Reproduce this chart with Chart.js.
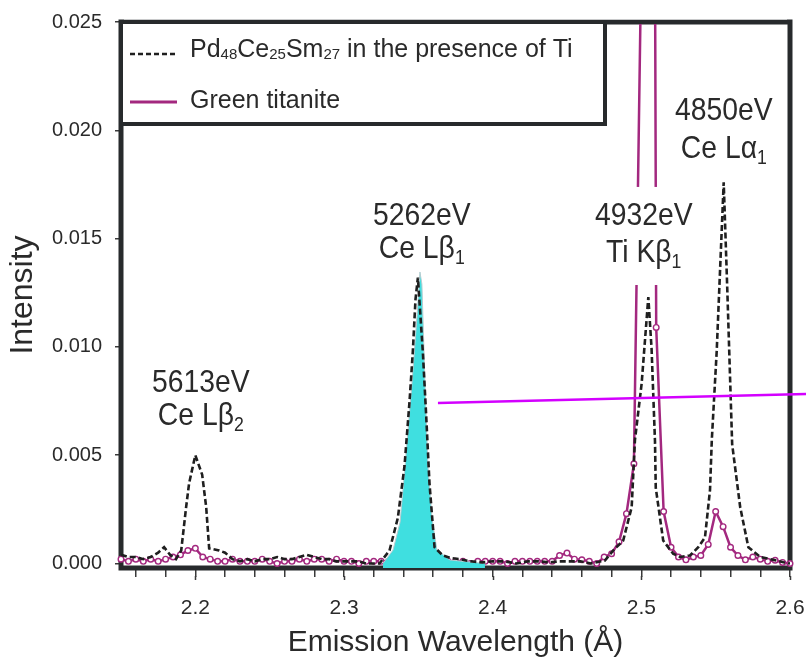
<!DOCTYPE html>
<html>
<head>
<meta charset="utf-8">
<script src="https://cdn.jsdelivr.net/npm/chart.js@4.4.1/dist/chart.umd.min.js"></script>
<style>
  html, body { margin: 0; padding: 0; background: #fff; }
  #wrap { width: 806px; height: 665px; }
</style>
</head>
<body>
<div id="wrap"><canvas id="spectrum" width="806" height="665"></canvas></div>
<script>
// Pd48Ce25Sm27 spectrum (dashed)
const alloyWavelength = [2.150,2.155,2.160,2.165,2.170,2.175,2.179,2.183,2.187,2.1905,2.1938,2.1958,2.2000,2.2046,2.2073,2.2093,2.216,2.220,2.225,2.230,2.235,2.240,2.245,2.250,2.255,2.260,2.265,2.270,2.275,2.280,2.285,2.290,2.295,2.300,2.305,2.310,2.315,2.320,2.3239,2.3306,2.3362,2.3407,2.3441,2.3463,2.3481,2.3497,2.3530,2.3553,2.3575,2.3609,2.3665,2.372,2.378,2.385,2.393,2.400,2.408,2.416,2.424,2.431,2.438,2.445,2.452,2.459,2.466,2.4755,2.4811,2.4878,2.4935,2.4957,2.5002,2.5047,2.5069,2.5092,2.5097,2.5147,2.5214,2.5260,2.5327,2.5383,2.5428,2.5462,2.5474,2.5507,2.5554,2.5577,2.5611,2.5665,2.5720,2.5799,2.5870,2.5956,2.600];
const alloyIntensity = [0.0004,0.0003,0.0003,0.0002,0.0003,0.0005,0.00075,0.0004,0.0002,0.0006,0.0026,0.0037,0.0050,0.0041,0.0026,0.0007,0.0006,0.0005,0.0002,0.0001,0.0002,0.0001,0.0002,0.0002,0.0003,0.0002,0.0002,0.0003,0.0004,0.0003,0.0002,0.0002,0.0001,0.0001,0.0001,0.0001,0.0000,0.0000,0.0000,0.0006,0.0021,0.0045,0.0075,0.0098,0.0122,0.0132,0.0098,0.0068,0.0037,0.00075,0.00037,0.00025,0.0002,0.0001,0.00005,0.0001,0.0001,0.0000,0.0001,0.0001,0.00005,0.0001,0.0001,0.0001,0.0000,0.00014,0.0006,0.00106,0.0026,0.0057,0.0083,0.0123,0.0099,0.0056,0.0035,0.00106,0.00045,0.0003,0.00037,0.00075,0.0012,0.0034,0.0057,0.0098,0.0176,0.0129,0.0055,0.0026,0.00075,0.0003,0.0002,0.00006,0.0000];

// green titanite spectrum (solid with open circles), 0.005 Å steps
const titaniteWavelength = [2.150,2.155,2.160,2.165,2.170,2.175,2.180,2.185,2.190,2.195,2.200,2.205,2.210,2.215,2.220,2.225,2.230,2.235,2.240,2.245,2.250,2.255,2.260,2.265,2.270,2.275,2.280,2.285,2.290,2.295,2.300,2.305,2.310,2.315,2.320,2.325,2.330,2.335,2.340,2.345,2.350,2.355,2.360,2.365,2.370,2.375,2.380,2.385,2.390,2.395,2.400,2.405,2.410,2.415,2.420,2.425,2.430,2.435,2.440,2.445,2.450,2.455,2.460,2.465,2.470,2.475,2.480,2.485,2.490,2.495,2.500,2.505,2.510,2.515,2.520,2.525,2.530,2.535,2.540,2.545,2.550,2.555,2.560,2.565,2.570,2.575,2.580,2.585,2.590,2.595,2.600];
const titaniteIntensity = [0.0002,0.0001,0.0002,0.0001,0.0002,0.0001,0.0002,0.0003,0.0004,0.0006,0.0007,0.0003,0.0002,0.0001,0.0001,0.0002,0.0001,0.0001,0.0001,0.0002,0.0001,0.0000,0.0001,0.0001,0.0002,0.0001,0.0002,0.0002,0.0001,0.0002,0.0001,0.0001,0.0000,0.0001,0.0001,0.0001,0.0001,0.0001,0.0001,0.0001,0.0001,0.0001,0.0001,0.0001,0.0001,0.0001,0.0001,0.0000,0.0001,0.0001,0.0001,0.0001,0.0000,0.0001,0.0001,0.0001,0.0001,0.0001,0.0001,0.00037,0.00048,0.0002,0.00017,0.0001,0.0000,0.0003,0.00045,0.0010,0.0023,0.0046,0.028,0.115,0.0109,0.0024,0.00075,0.0003,0.00017,0.0003,0.00037,0.00088,0.0024,0.0017,0.00075,0.00037,0.00017,0.0003,0.0002,0.0001,0.00015,0.00005,0.0000];

// shaded Ce Lbeta1 peak
const fillWavelength = [2.3262,2.3330,2.3377,2.3410,2.3457,2.3491,2.3511,2.3524,2.3545,2.3565,2.3592,2.3625,2.3713,2.3948];
const fillIntensity = [0,0.00062,0.0019,0.00446,0.0083,0.0114,0.01346,0.0129,0.0083,0.00446,0.0021,0.00062,0.00016,0];

// straight pointer line running out to the right
const pointerWavelength = [2.3632, 2.6108];
const pointerIntensity = [0.00741, 0.00783];

const yTicks = [0, 0.005, 0.010, 0.015, 0.020, 0.025];
const xTicks = [2.16,2.18,2.2,2.22,2.24,2.26,2.28,2.3,2.32,2.34,2.36,2.38,2.4,2.42,2.44,2.46,2.48,2.5,2.52,2.54,2.56,2.58,2.6];
const xLabelTicks = [2.2, 2.3, 2.4, 2.5, 2.6];

// peak annotations: energy line and "element line" with subscript
const peakEnergy = ['5613eV', '5262eV', '4932eV', '4850eV'];
const peakLine = [['Ce L', 'β', '2'], ['Ce L', 'β', '1'], ['Ti K', 'β', '1'], ['Ce L', 'α', '1']];
const peakLabelX = [2.2037, 2.3523, 2.5016, 2.5555];
const peakLabelY1 = [0.00792, 0.01563, 0.01563, 0.02048];
const peakLabelY2 = [0.00639, 0.01410, 0.01392, 0.01872];

const FONT = "'Liberation Sans', Arial, Helvetica, sans-serif";
const INK = '#272a2c';
const TEXT = '#2a2a2a';
const ALLOY = '#1f1f1f';
const TITANITE = '#a3287f';

function pts(xs, ys) {
  const out = [];
  for (let i = 0; i < Math.min(xs.length, ys.length); i++) out.push({ x: xs[i], y: ys[i] });
  return out;
}

// draw text runs [text, isSub] centred on cx, squeezed horizontally
function drawRuns(ctx, runs, cx, baseline, size, subSize, subDrop, squeeze) {
  let w = 0;
  runs.forEach(r => {
    ctx.font = (r[1] ? subSize : size) + 'px ' + FONT;
    w += ctx.measureText(r[0]).width;
  });
  ctx.save();
  ctx.translate(cx - w * squeeze / 2, baseline);
  ctx.scale(squeeze, 1);
  let x = 0;
  runs.forEach(r => {
    ctx.font = (r[1] ? subSize : size) + 'px ' + FONT;
    ctx.fillText(r[0], x, r[1] ? subDrop : 0);
    x += ctx.measureText(r[0]).width;
  });
  ctx.restore();
  return w * squeeze;
}

function drawRunsLeft(ctx, runs, x0, baseline, size, subSize, subDrop) {
  let x = x0;
  runs.forEach(r => {
    ctx.font = (r[1] ? subSize : size) + 'px ' + FONT;
    ctx.fillText(r[0], x, r[1] ? baseline + subDrop : baseline);
    x += ctx.measureText(r[0]).width;
  });
}

const decorations = {
  id: 'decorations',
  beforeDatasetsDraw(chart) {
    const { ctx, chartArea: a } = chart;
    const xs = chart.scales.x;
    ctx.save();
    // longer marks at the labelled wavelengths
    ctx.strokeStyle = '#3a3a3a';
    ctx.lineWidth = 1.5;
    xLabelTicks.forEach(v => {
      const px = Math.round(xs.getPixelForValue(v)) + 0.5;
      ctx.beginPath();
      ctx.moveTo(px, a.bottom + 8);
      ctx.lineTo(px, a.bottom + 12);
      ctx.stroke();
    });
    // heavy frame
    ctx.strokeStyle = INK;
    ctx.lineWidth = 5;
    ctx.strokeRect(a.left, a.top, a.right - a.left, a.bottom - a.top);
    ctx.restore();
  },
  afterDatasetsDraw(chart) {
    const { ctx, chartArea: a } = chart;
    const xs = chart.scales.x, ys = chart.scales.y;
    ctx.save();
    // nothing of the spectra shows above the frame
    ctx.fillStyle = '#fff';
    ctx.fillRect(a.left + 3, 0, a.right - a.left - 6, a.top - 2.5);

    ctx.textBaseline = 'alphabetic';
    const size = 32, squeeze = 0.885;
    peakEnergy.forEach((txt, i) => {
      const cx = xs.getPixelForValue(peakLabelX[i]);
      const b1 = ys.getPixelForValue(peakLabelY1[i]);
      const b2 = ys.getPixelForValue(peakLabelY2[i]);
      if (i === 2) {
        // white patch under the Ti label, cutting the titanite lines
        ctx.font = size + 'px ' + FONT;
        const w = ctx.measureText(txt).width * squeeze;
        ctx.fillStyle = '#fff';
        ctx.fillRect(cx - w / 2 - 6, b1 - 38, w + 12, b2 - b1 + 61);
      }
      ctx.fillStyle = TEXT;
      drawRuns(ctx, [[txt, false]], cx, b1, size, 19, 6, squeeze);
      const ln = peakLine[i];
      drawRuns(ctx, [[ln[0], false], [ln[1], false], [ln[2], true]], cx, b2, size, 20, 6, squeeze);
    });

    // legend box
    const lx = a.left, ly = a.top, lw = 484, lh = 102;
    ctx.fillStyle = '#fff';
    ctx.fillRect(lx, ly, lw, lh);
    ctx.strokeStyle = INK;
    ctx.lineWidth = 4;
    ctx.strokeRect(lx, ly, lw, lh);

    ctx.lineWidth = 2.6;
    ctx.strokeStyle = ALLOY;
    ctx.setLineDash([5, 3]);
    ctx.beginPath();
    ctx.moveTo(lx + 9, ly + 32);
    ctx.lineTo(lx + 56, ly + 32);
    ctx.stroke();
    ctx.setLineDash([]);
    ctx.lineWidth = 3;
    ctx.strokeStyle = TITANITE;
    ctx.beginPath();
    ctx.moveTo(lx + 9, ly + 80);
    ctx.lineTo(lx + 56, ly + 80);
    ctx.stroke();

    ctx.fillStyle = TEXT;
    drawRunsLeft(ctx, [['Pd', false], ['48', true], ['Ce', false], ['25', true], ['Sm', false], ['27', true], [' in the presence of Ti', false]],
      lx + 69, ly + 35, 25, 15, 2);
    drawRunsLeft(ctx, [['Green titanite', false]], lx + 69, ly + 86, 25, 15, 2);
    ctx.restore();
  }
};

Chart.defaults.font.family = FONT;
Chart.defaults.color = TEXT;

new Chart(document.getElementById('spectrum').getContext('2d'), {
  type: 'line',
  data: {
    datasets: [
      {
        label: 'pointer',
        data: pts(pointerWavelength, pointerIntensity),
        borderColor: '#d300ff',
        borderWidth: 2.5,
        pointRadius: 0,
        clip: false,
        order: 0
      },
      {
        label: 'Pd48Ce25Sm27 in the presence of Ti',
        data: pts(alloyWavelength, alloyIntensity),
        borderColor: ALLOY,
        borderWidth: 2.6,
        borderDash: [6, 3],
        pointRadius: 0,
        tension: 0,
        order: 1
      },
      {
        label: 'Ce Lb1 area',
        data: pts(fillWavelength, fillIntensity),
        borderColor: '#b5cdd1',
        borderWidth: 1,
        backgroundColor: '#3fdfe0',
        fill: 'start',
        pointRadius: 0,
        order: 2
      },
      {
        label: 'Green titanite',
        data: pts(titaniteWavelength, titaniteIntensity),
        borderColor: TITANITE,
        borderWidth: 2.5,
        pointRadius: 2.8,
        pointBackgroundColor: '#fff',
        pointBorderColor: TITANITE,
        pointBorderWidth: 1.4,
        tension: 0,
        clip: { left: 4, right: 4, top: -2, bottom: 4 },
        order: 3
      }
    ]
  },
  options: {
    responsive: false,
    devicePixelRatio: 1,
    animation: false,
    layout: { padding: { top: 22, right: 16, left: 0, bottom: 0 } },
    plugins: {
      legend: { display: false },
      tooltip: { enabled: false }
    },
    scales: {
      x: {
        type: 'linear',
        min: 2.15,
        max: 2.6,
        afterBuildTicks: s => { s.ticks = xTicks.map(v => ({ value: v })); },
        afterFit: s => { s.height = 97; s.paddingLeft = 0; s.paddingRight = 0; },
        border: { display: false },
        grid: { drawOnChartArea: false, drawTicks: true, tickLength: 9, color: '#3a3a3a', lineWidth: 1.5 },
        ticks: {
          autoSkip: false,
          maxRotation: 0,
          padding: 19,
          font: { size: 21 },
          color: TEXT,
          callback: v => xLabelTicks.some(t => Math.abs(t - v) < 1e-9) ? v.toFixed(1) : ''
        },
        title: {
          display: true,
          text: 'Emission Wavelength (Å)',
          font: { size: 30 },
          color: TEXT,
          padding: { top: 0, bottom: 4 }
        }
      },
      y: {
        min: -0.000208,
        max: 0.025,
        afterBuildTicks: s => { s.ticks = yTicks.map(v => ({ value: v })); },
        afterFit: s => { s.width = 121; s.paddingTop = 0; s.paddingBottom = 0; },
        border: { display: false },
        grid: { drawOnChartArea: false, drawTicks: true, tickLength: 6, color: '#3a3a3a', lineWidth: 1.5 },
        ticks: {
          padding: 13,
          font: { size: 20 },
          color: TEXT,
          callback: v => v.toFixed(3)
        },
        title: {
          display: true,
          text: 'Intensity',
          font: { size: 32 },
          color: TEXT,
          padding: { top: 4, bottom: 0 }
        }
      }
    }
  },
  plugins: [decorations]
});
</script>
</body>
</html>
